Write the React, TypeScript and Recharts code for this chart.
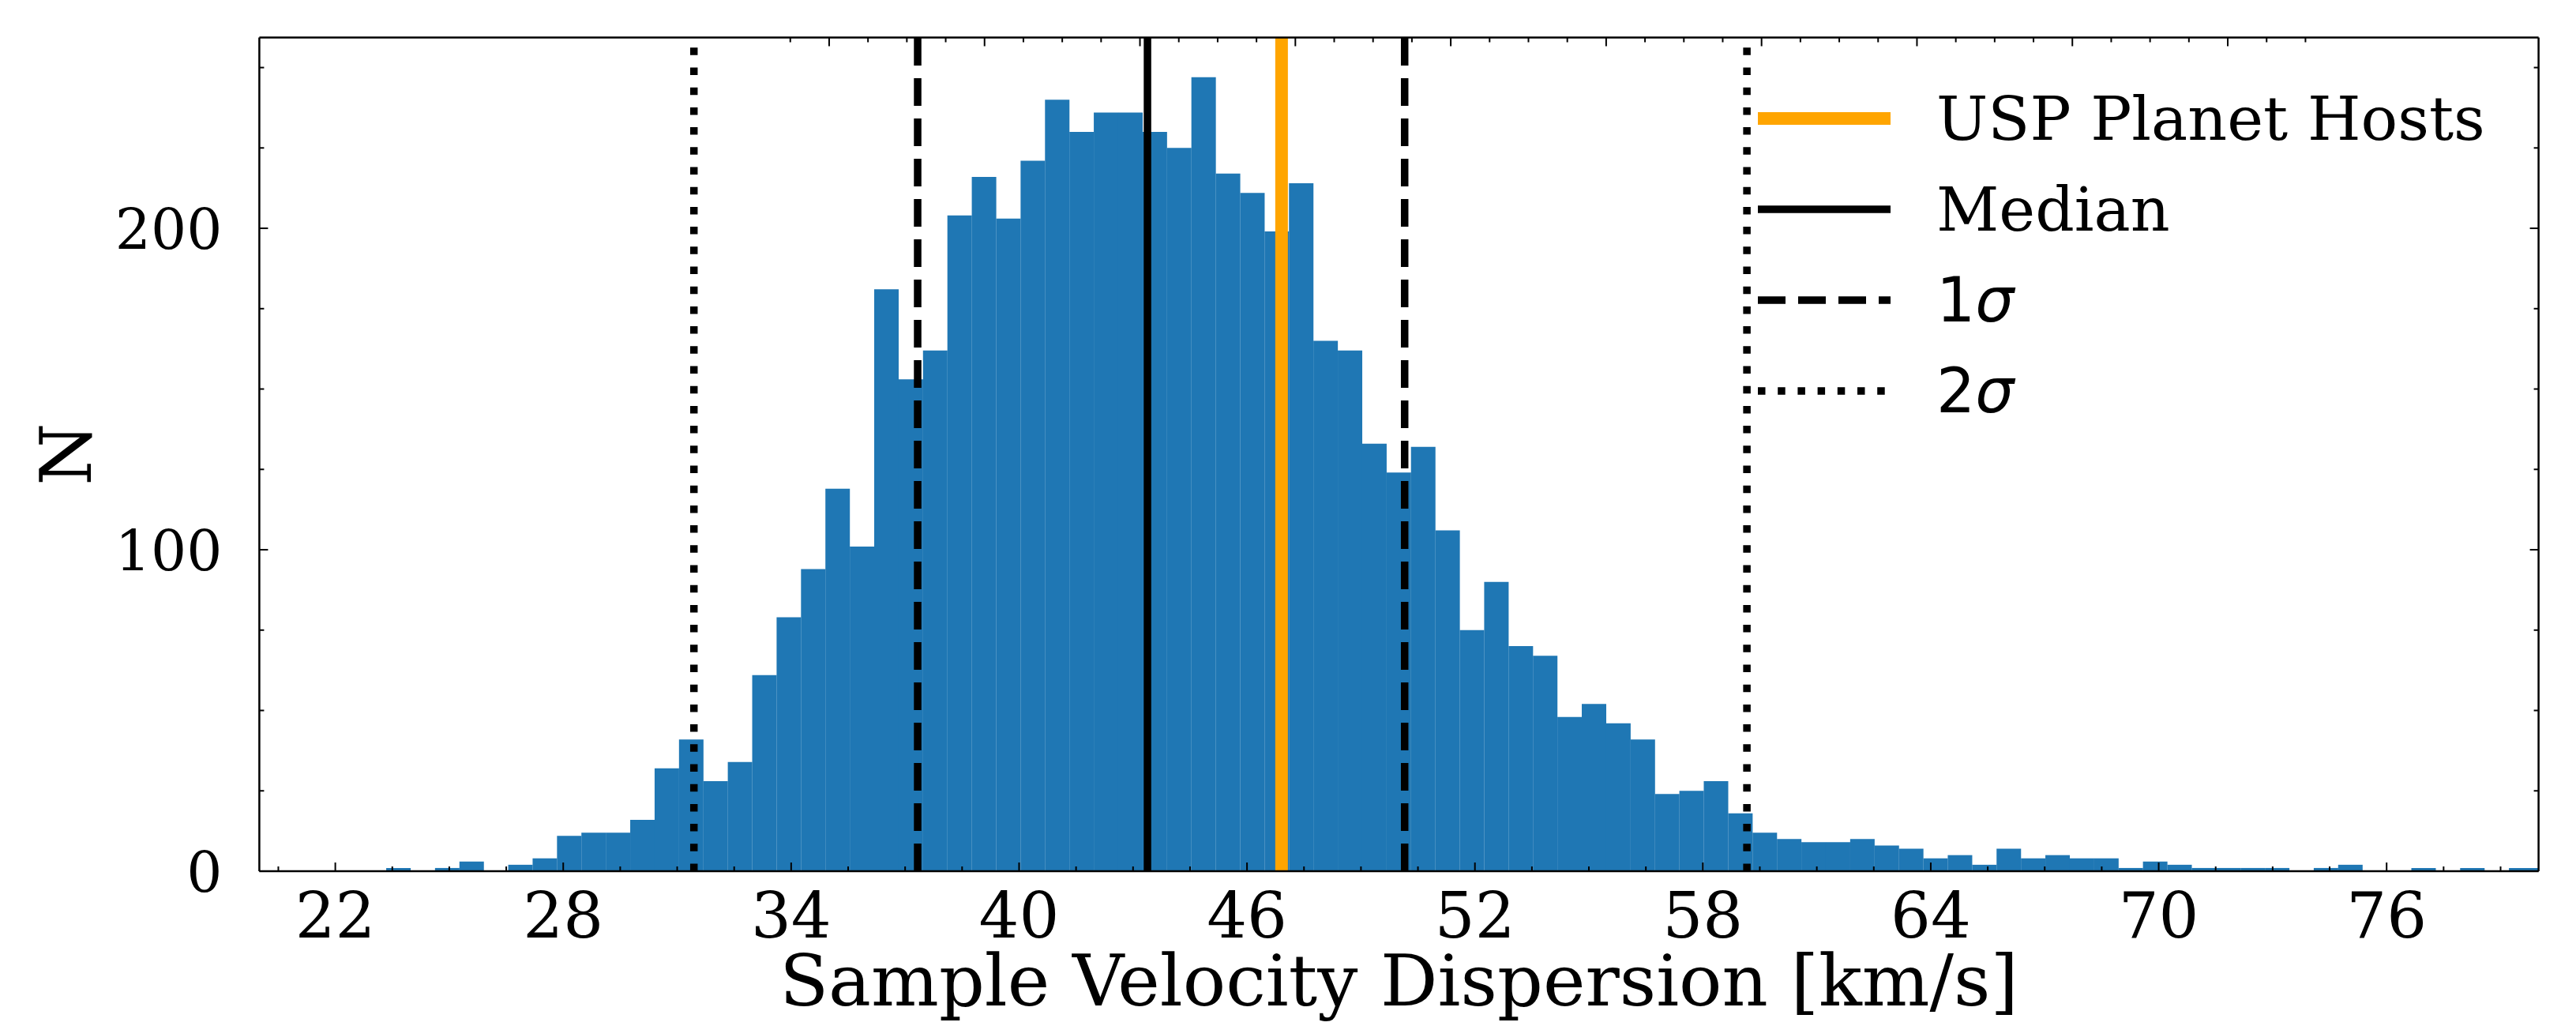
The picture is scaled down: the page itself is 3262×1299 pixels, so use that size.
import React from 'react';
import { ComposedChart, Bar, XAxis, YAxis, ReferenceLine, Legend, Label } from 'recharts';

const CHART_W = 3262;
const CHART_H = 1299;

// Histogram bins (equal width), counts
const binStart = 23.34;
const binWidth = 0.6423;
const counts = [
  1, 0, 1, 3, 0, 2, 4, 11, 12, 12,
  16, 32, 41, 28, 34, 61, 79, 94, 119, 101,
  181, 153, 162, 204, 216, 203, 221, 240, 230, 236,
  236, 230, 225, 247, 217, 211, 199, 214, 165, 162,
  133, 124, 132, 106, 75, 90, 70, 67, 48, 52,
  46, 41, 24, 25, 28, 18, 12, 10, 9, 9,
  10, 8, 7, 4, 5, 2, 7, 4, 5, 4,
  4, 1, 3, 2, 1, 1, 1, 1, 0, 1,
  2, 0, 0, 1, 0, 1, 0, 1, 1,
];

const xDomain = [20, 80];
const yDomain = [0, 259.35];
const xMajorTicks = [22, 28, 34, 40, 46, 52, 58, 64, 70, 76];
const xMinorTicks = [20.5, 23.5, 25, 26.5, 29.5, 31, 32.5, 35.5, 37, 38.5, 41.5, 43, 44.5, 47.5, 49, 50.5, 53.5, 55, 56.5, 59.5, 61, 62.5, 65.5, 67, 68.5, 71.5, 73, 74.5, 77.5, 79];
const yMajorTicks = [0, 100, 200];
const yMinorTicks = [25, 50, 75, 125, 150, 175, 225, 250];

const uspHostValue = 46.91;
const medianValue = 43.38;
const oneSigmaValues = [37.33, 50.15];
const twoSigmaValues = [31.44, 59.16];

const legendLabels = ['USP Planet Hosts', 'Median', '1σ', '2σ'];
const xLabel = 'Sample Velocity Dispersion [km/s]';
const yLabel = 'N';

const histData = counts.map((n, i) => ({ x: binStart + (i + 0.5) * binWidth, n }));
const xTicks = [...xMajorTicks, ...xMinorTicks].sort((a, b) => a - b);
const yTicks = [...yMajorTicks, ...yMinorTicks].sort((a, b) => a - b);

const BLUE = '#1f77b4';
const ORANGE = '#ffa500';
const SERIF = '"DejaVu Serif", serif';
const SANS = '"DejaVu Sans", sans-serif';
const LW = 9.5;
const DASH = '35 16';
const DOT = '9.5 15.7';
const XTICK_FS = 80;
const YTICK_FS = 71;
const LABEL_FS = 90.5;
const LEGEND_FS = 77.5;
const MAJOR_LEN = 11;
const MINOR_LEN = 6;
const SPINE_W = 2.5;

const BottomTick = (props: any) => {
  const { x, y, payload } = props;
  const major = xMajorTicks.includes(payload.value);
  return (
    <g>
      <line x1={x} y1={y} x2={x} y2={y - (major ? MAJOR_LEN : MINOR_LEN)} stroke="#000" strokeWidth={2} />
      {major && (
        <text x={x} y={y + 84} textAnchor="middle" fontFamily={SERIF} fontSize={XTICK_FS} fill="#000">
          {payload.value}
        </text>
      )}
    </g>
  );
};

const TopTick = (props: any) => {
  const { x, y, payload } = props;
  const major = xMajorTicks.includes(payload.value);
  return <line x1={x} y1={y} x2={x} y2={y + (major ? MAJOR_LEN : MINOR_LEN)} stroke="#000" strokeWidth={2} />;
};

const LeftTick = (props: any) => {
  const { x, y, payload } = props;
  const major = yMajorTicks.includes(payload.value);
  return (
    <g>
      <line x1={x} y1={y} x2={x + (major ? MAJOR_LEN : MINOR_LEN)} y2={y} stroke="#000" strokeWidth={2} />
      {major && (
        <text x={x - 47} y={y + 0.3645 * YTICK_FS} textAnchor="end" fontFamily={SERIF} fontSize={YTICK_FS} fill="#000">
          {payload.value}
        </text>
      )}
    </g>
  );
};

const RightTick = (props: any) => {
  const { x, y, payload } = props;
  const major = yMajorTicks.includes(payload.value);
  return <line x1={x} y1={y} x2={x - (major ? MAJOR_LEN : MINOR_LEN)} y2={y} stroke="#000" strokeWidth={2} />;
};

const legendStyles = [
  { color: ORANGE, width: 16, dash: undefined },
  { color: '#000', width: LW, dash: undefined },
  { color: '#000', width: LW, dash: DASH },
  { color: '#000', width: LW, dash: DOT },
];

const renderLegendText = (label: string) => {
  if (label.endsWith('σ')) {
    return (
      <>
        <tspan fontFamily={SANS}>{label.slice(0, -1)}</tspan>
        <tspan fontFamily={SANS} fontStyle="italic">σ</tspan>
      </>
    );
  }
  return label;
};

const LegendContent = () => (
  <svg width={1000} height={470} style={{ overflow: 'visible', display: 'block' }}>
    {legendLabels.map((label, i) => {
      const cy = 60 + i * 115;
      const st = legendStyles[i];
      return (
        <g key={label}>
          <line x1={26} x2={194} y1={cy} y2={cy} stroke={st.color} strokeWidth={st.width} strokeDasharray={st.dash} />
          <text x={252} y={cy + 27} fontFamily={SERIF} fontSize={LEGEND_FS} fill="#000">
            {renderLegendText(label)}
          </text>
        </g>
      );
    })}
  </svg>
);

const XAxisLabel = (props: any) => {
  const { viewBox } = props;
  return (
    <text x={viewBox.x + viewBox.width / 2} y={viewBox.y + 170} textAnchor="middle" fontFamily={SERIF} fontSize={LABEL_FS} fill="#000">
      {xLabel}
    </text>
  );
};

const YAxisLabel = (props: any) => {
  const { viewBox } = props;
  const cx = viewBox.x + 83;
  const cy = viewBox.y + viewBox.height / 2;
  return (
    <text x={cx} y={cy} transform={`rotate(-90, ${cx}, ${cy})`} textAnchor="middle" dominantBaseline="central" fontFamily={SERIF} fontSize={LABEL_FS} fill="#000">
      {yLabel}
    </text>
  );
};

export default function App() {
  return (
    <div style={{ position: 'absolute', left: 0, top: 0, width: CHART_W, height: CHART_H, background: '#fff' }}>
      <ComposedChart
        width={CHART_W}
        height={CHART_H}
        data={histData}
        margin={{ top: 46.5, right: 46.4, bottom: 0, left: 0 }}
        barCategoryGap={0}
        barGap={0}
      >
        <XAxis
          xAxisId="b"
          dataKey="x"
          type="number"
          domain={xDomain}
          allowDataOverflow
          ticks={xTicks}
          interval={0}
          height={196}
          tickSize={0}
          tickMargin={0}
          tickLine={false}
          tick={<BottomTick />}
          axisLine={{ stroke: '#000', strokeWidth: SPINE_W }}
        >
          <Label content={<XAxisLabel />} />
        </XAxis>
        <XAxis
          xAxisId="t"
          orientation="top"
          type="number"
          domain={xDomain}
          allowDataOverflow
          ticks={xTicks}
          interval={0}
          height={1}
          tickSize={0}
          tickMargin={0}
          tickLine={false}
          tick={<TopTick />}
          axisLine={{ stroke: '#000', strokeWidth: SPINE_W }}
        />
        <YAxis
          yAxisId="l"
          type="number"
          domain={yDomain}
          allowDataOverflow
          ticks={yTicks}
          interval={0}
          width={328.4}
          tickSize={0}
          tickMargin={0}
          tickLine={false}
          tick={<LeftTick />}
          axisLine={{ stroke: '#000', strokeWidth: SPINE_W }}
        >
          <Label content={<YAxisLabel />} />
        </YAxis>
        <YAxis
          yAxisId="r"
          orientation="right"
          type="number"
          domain={yDomain}
          allowDataOverflow
          ticks={yTicks}
          interval={0}
          width={1}
          tickSize={0}
          tickMargin={0}
          tickLine={false}
          tick={<RightTick />}
          axisLine={{ stroke: '#000', strokeWidth: SPINE_W }}
        />
        <Bar xAxisId="b" yAxisId="l" dataKey="n" fill={BLUE} isAnimationActive={false} />
        <ReferenceLine xAxisId="b" yAxisId="l" x={uspHostValue} stroke={ORANGE} strokeWidth={16} />
        <ReferenceLine xAxisId="b" yAxisId="l" x={medianValue} stroke="#000" strokeWidth={LW} />
        {oneSigmaValues.map((v) => (
          <ReferenceLine key={`s1-${v}`} xAxisId="b" yAxisId="l" x={v} stroke="#000" strokeWidth={LW} strokeDasharray={DASH} />
        ))}
        {twoSigmaValues.map((v) => (
          <ReferenceLine key={`s2-${v}`} xAxisId="b" yAxisId="l" x={v} stroke="#000" strokeWidth={LW} strokeDasharray={DOT} />
        ))}
        <Legend
          layout="vertical"
          align="center"
          verticalAlign="middle"
          content={<LegendContent />}
          wrapperStyle={{ position: 'absolute', left: 2200, top: 90, width: 1000, height: 470 }}
        />
      </ComposedChart>
    </div>
  );
}
